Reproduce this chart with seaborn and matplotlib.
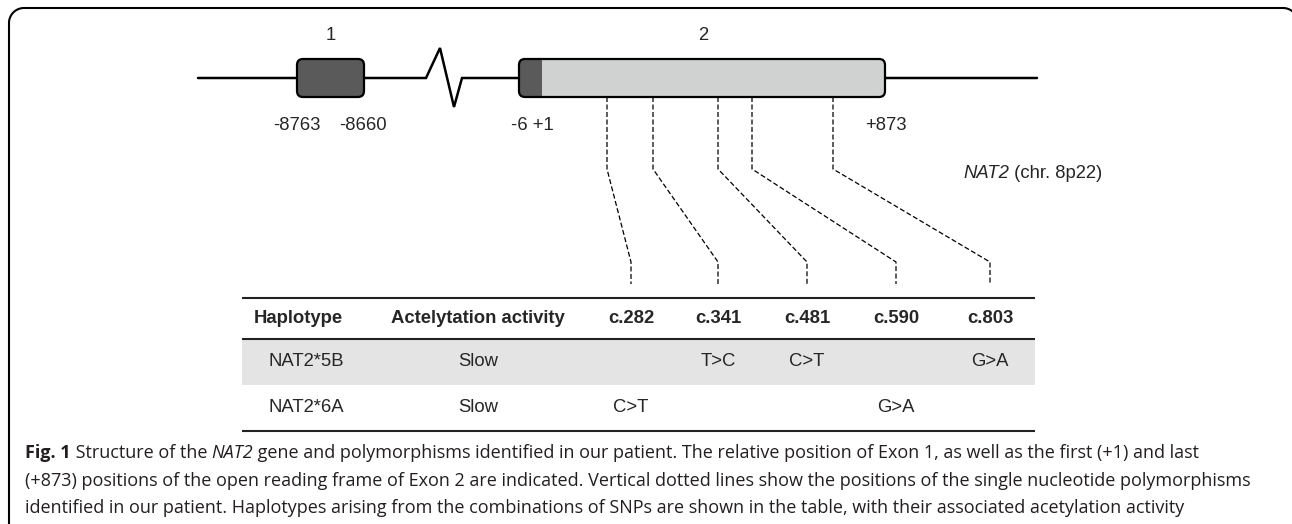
import numpy as np
import pandas as pd
import seaborn as sns
import matplotlib.pyplot as plt
from matplotlib.patches import FancyBboxPatch, Rectangle

# ---- data ----
exon_names = ["1", "2"]
exon1_bounds = ["-8763", "-8660"]
exon2_bounds = ["-6 +1", "+873"]
gene_name = "NAT2"
gene_locus = " (chr. 8p22)"
snp_names = ["c.282", "c.341", "c.481", "c.590", "c.803"]
table_header = ["Haplotype", "Actelytation activity"] + snp_names
haplotypes = ["NAT2*5B", "NAT2*6A"]
activity = ["Slow", "Slow"]
nat2_5b = ["", "T>C", "C>T", "", "G>A"]
nat2_6a = ["C>T", "", "", "G>A", ""]
caption_lines = [
    [("Fig. 1", "bold"), (" Structure of the ", "normal"), ("NAT2", "italic"),
     (" gene and polymorphisms identified in our patient. The relative position of Exon 1, "
      "as well as the first (+1) and last", "normal")],
    [("(+873) positions of the open reading frame of Exon 2 are indicated. Vertical dotted lines "
      "show the positions of the single nucleotide polymorphisms", "normal")],
    [("identified in our patient. Haplotypes arising from the combinations of SNPs are shown in "
      "the table, with their associated acetylation activity", "normal")],
]

# ---- layout (pixel space) ----
W, H = 1292, 524
line_y = 78
exon_top, exon_h = 59, 38
exon1_x = (297, 364)
exon2_x = (519, 885)
utr_end = 542
backbone_x = [198, 426, 440, 454, 462, 1037]
backbone_y = [78, 78, 48, 107, 78, 78]
snp_top_x = [607, 653, 718, 752, 833]
col_x = [298, 478, 631, 718, 807, 896, 990]
knee_y, low_knee_y, snp_end_y = 169, 262, 284
table_x = (242, 1035)
table_top, head_line, row_h = 298, 339, 46

dark = "#5a5a5a"
light = "#d0d2d1"
row_grey = "#e4e4e4"
fs = 13.3

sns.set_theme(style="white")
plt.rcParams["font.family"] = ["Liberation Sans", "DejaVu Sans"]

fig = plt.figure(figsize=(W / 100, H / 100), dpi=100)
ax = fig.add_axes([0, 0, 1, 1])
ax.set_xlim(0, W)
ax.set_ylim(H, 0)
ax.axis("off")

# outer frame: left edge, rounded top corners; the right side runs off the canvas
r = 15
a = np.linspace(np.pi, 1.5 * np.pi, 20)
b = np.linspace(1.5 * np.pi, 2 * np.pi, 20)
left, top, right = 9, 8, 1298
fx = np.concatenate([[left], left + r + r * np.cos(a), right - r + r * np.cos(b)])
fy = np.concatenate([[H + 10], top + r + r * np.sin(a), top + r + r * np.sin(b)])
ax.plot(fx, fy, color="black", lw=1.5)

# gene backbone with break
ax.plot(backbone_x, backbone_y, color="black", lw=1.8, zorder=1, solid_joinstyle="miter")

# exon 1
ax.add_patch(FancyBboxPatch((exon1_x[0], exon_top), exon1_x[1] - exon1_x[0], exon_h,
                            boxstyle="round,pad=0,rounding_size=6", fc=dark, ec="black",
                            lw=1.6, zorder=3))
# exon 2
box2 = FancyBboxPatch((exon2_x[0], exon_top), exon2_x[1] - exon2_x[0], exon_h,
                      boxstyle="round,pad=0,rounding_size=6", fc=light, ec="none", zorder=2)
ax.add_patch(box2)
utr = Rectangle((exon2_x[0], exon_top), utr_end - exon2_x[0], exon_h, fc=dark, ec="none", zorder=3)
ax.add_patch(utr)
utr.set_clip_path(box2)
ax.add_patch(FancyBboxPatch((exon2_x[0], exon_top), exon2_x[1] - exon2_x[0], exon_h,
                            boxstyle="round,pad=0,rounding_size=6", fc="none", ec="black",
                            lw=1.6, zorder=4))

# exon labels and bounds
ax.text(sum(exon1_x) / 2, 35, exon_names[0], ha="center", va="center", fontsize=fs)
ax.text(703, 35, exon_names[1], ha="center", va="center", fontsize=fs)
ax.text(297, 126, exon1_bounds[0], ha="center", va="center", fontsize=fs)
ax.text(363, 126, exon1_bounds[1], ha="center", va="center", fontsize=fs)
ax.text(532, 126, exon2_bounds[0], ha="center", va="center", fontsize=fs)
ax.text(886, 126, exon2_bounds[1], ha="center", va="center", fontsize=fs)

t = ax.text(963, 173, gene_name, ha="left", va="center", fontsize=fs, style="italic")
ax.annotate(gene_locus, xy=(1, 0), xycoords=t, ha="left", va="bottom", fontsize=fs)

# SNP connectors
rows = []
for name, x0, x1 in zip(snp_names, snp_top_x, col_x[2:]):
    for i, (x, y) in enumerate([(x0, exon_top + exon_h), (x0, knee_y),
                                (x1, low_knee_y), (x1, snp_end_y)]):
        rows.append({"snp": name, "step": i, "x": x, "y": y})
conn = pd.DataFrame(rows)
sns.lineplot(data=conn, x="x", y="y", units="snp", estimator=None, sort=False,
             color="black", lw=0.9, linestyle=(0, (4, 2)), ax=ax)
ax.set_xlim(0, W)
ax.set_ylim(H, 0)
ax.axis("off")

# table
ax.add_patch(Rectangle((table_x[0], head_line), table_x[1] - table_x[0], row_h,
                       fc=row_grey, ec="none", zorder=0))
ax.hlines([table_top, head_line, head_line + 2 * row_h], table_x[0], table_x[1],
          color="#222222", lw=1.5)
head_y = (table_top + head_line) / 2
for x, lab in zip(col_x, table_header):
    ax.text(x, head_y, lab, ha="center", va="center", fontsize=fs, weight="bold")
for r_i, (hap, act, snps) in enumerate(zip(haplotypes, activity, [nat2_5b, nat2_6a])):
    y = head_line + row_h * (r_i + 0.5)
    ax.text(col_x[0] + 8, y, hap, ha="center", va="center", fontsize=fs)
    ax.text(col_x[1], y, act, ha="center", va="center", fontsize=fs)
    for x, v in zip(col_x[2:], snps):
        if v:
            ax.text(x, y, v, ha="center", va="center", fontsize=fs)

# caption
cap_fs = 12.95
for line, y in zip(caption_lines, [453, 481, 508]):
    prev = None
    for txt, sty in line:
        kw = dict(fontsize=cap_fs, family=["Open Sans", "DejaVu Sans"], color="#231f20")
        if sty == "bold":
            kw["weight"] = "bold"
        if sty == "italic":
            kw["style"] = "italic"
        if prev is None:
            prev = ax.text(25, y, txt, ha="left", va="center", **kw)
        else:
            prev = ax.annotate(txt, xy=(1, 0), xycoords=prev, ha="left", va="bottom", **kw)

fig.savefig("out.png", dpi=100)
